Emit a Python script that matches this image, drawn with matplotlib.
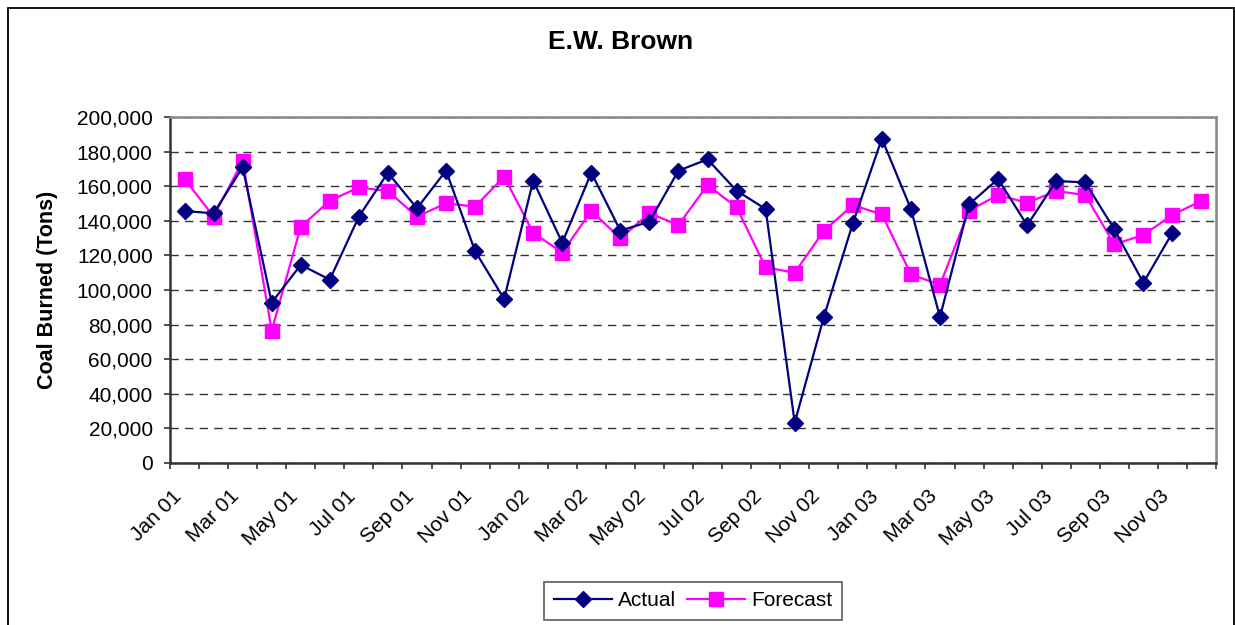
import matplotlib
matplotlib.use("Agg")
import matplotlib.pyplot as plt
import matplotlib.transforms as mtransforms
from matplotlib.patches import Rectangle
from matplotlib.ticker import FuncFormatter

plt.rcParams['font.family'] = ['Liberation Sans', 'DejaVu Sans']

months = ['Jan', 'Feb', 'Mar', 'Apr', 'May', 'Jun',
          'Jul', 'Aug', 'Sep', 'Oct', 'Nov', 'Dec']
years = ['01', '02', '03']
categories = [m + ' ' + y for y in years for m in months]

# coal burned, tons (actual stops at Nov 03)
actual = [145700, 144300, 171000, 92700, 114500, 106000,
          142400, 167800, 147200, 169000, 122500, 94800,
          163200, 127300, 167800, 134300, 139500, 169000,
          175500, 157400, 146800, 23300, 84200, 138500,
          187500, 146800, 84400, 149500, 164200, 137400,
          163000, 162200, 135100, 104200, 133100]
forecast = [164200, 142400, 174700, 76500, 136600, 151600,
            159300, 157200, 142400, 150100, 148200, 165500,
            133100, 121600, 145700, 129900, 144300, 137600,
            160700, 147800, 113100, 110000, 134100, 149100,
            143700, 109100, 102900, 145900, 154900, 150400,
            157200, 154900, 126400, 131800, 143400, 151600]

fig = plt.figure(figsize=(12.35, 6.25), dpi=100)
fig.patches.append(Rectangle((8 / 1235, -0.05), 1225.5 / 1235, 1.05 - 7.5 / 625,
                             transform=fig.transFigure, fill=False,
                             edgecolor='black', linewidth=1.3))

ax = fig.add_axes([170 / 1235, 1 - 463 / 625, 1046 / 1235, 346 / 625])

x = list(range(len(categories)))
ax.plot(x[:len(actual)], actual, color='#000080', linewidth=1.6,
        marker='D', markersize=8, label='Actual', zorder=3)
ax.plot(x, forecast, color='#FF00FF', linewidth=1.6,
        marker='s', markersize=9.5, label='Forecast', zorder=2)

ax.set_xlim(-0.5, len(categories) - 0.5)
ax.set_ylim(0, 200000)
ax.set_yticks(range(0, 200001, 20000))
ax.yaxis.set_major_formatter(FuncFormatter(lambda v, p: f'{int(v):,}'))
ax.grid(axis='y', color='#333333', linestyle=(0, (6, 4.5)), linewidth=1, zorder=0)

# ticks between categories, labels on every other month
ax.set_xticks([i - 0.5 for i in range(len(categories) + 1)])
ax.set_xticklabels([])
ax.set_xticks(x[::2], minor=True)
ax.set_xticklabels(categories[::2], minor=True, rotation=45,
                   ha='right', va='top', rotation_mode='anchor', fontsize=15)
ax.tick_params(axis='x', which='major', direction='out', length=4.5, width=1.2, color='#333333')
ax.tick_params(axis='x', which='minor', length=0, pad=17)
ax.tick_params(axis='y', direction='out', length=4.5, width=1.2, color='#333333',
               labelsize=15, pad=8)
offset = mtransforms.ScaledTranslation(-13 / 100, 0, fig.dpi_scale_trans)
for lab in ax.get_xticklabels(minor=True):
    lab.set_transform(lab.get_transform() + offset)

for side in ['left', 'bottom']:
    ax.spines[side].set_color('#333333')
    ax.spines[side].set_linewidth(1.8)
for side in ['top', 'right']:
    ax.spines[side].set_color('#888888')
    ax.spines[side].set_linewidth(1.8)

fig.text(621 / 1235, 1 - 42 / 625, 'E.W. Brown', ha='center', va='center',
         fontsize=19, fontweight='bold')
fig.text(48 / 1235, 1 - 290 / 625, 'Coal Burned (Tons)', ha='center', va='center',
         rotation=90, fontsize=15.5, fontweight='bold')

leg = fig.legend(loc='center', bbox_to_anchor=(693 / 1235, 1 - 601 / 625), ncol=2,
                 fontsize=15, frameon=True, fancybox=False, edgecolor='#333333',
                 handlelength=2.8, handletextpad=0.3, columnspacing=0.5,
                 borderpad=0.45, borderaxespad=0)
leg.get_frame().set_linewidth(1.2)

fig.savefig('out.png', dpi=100)
